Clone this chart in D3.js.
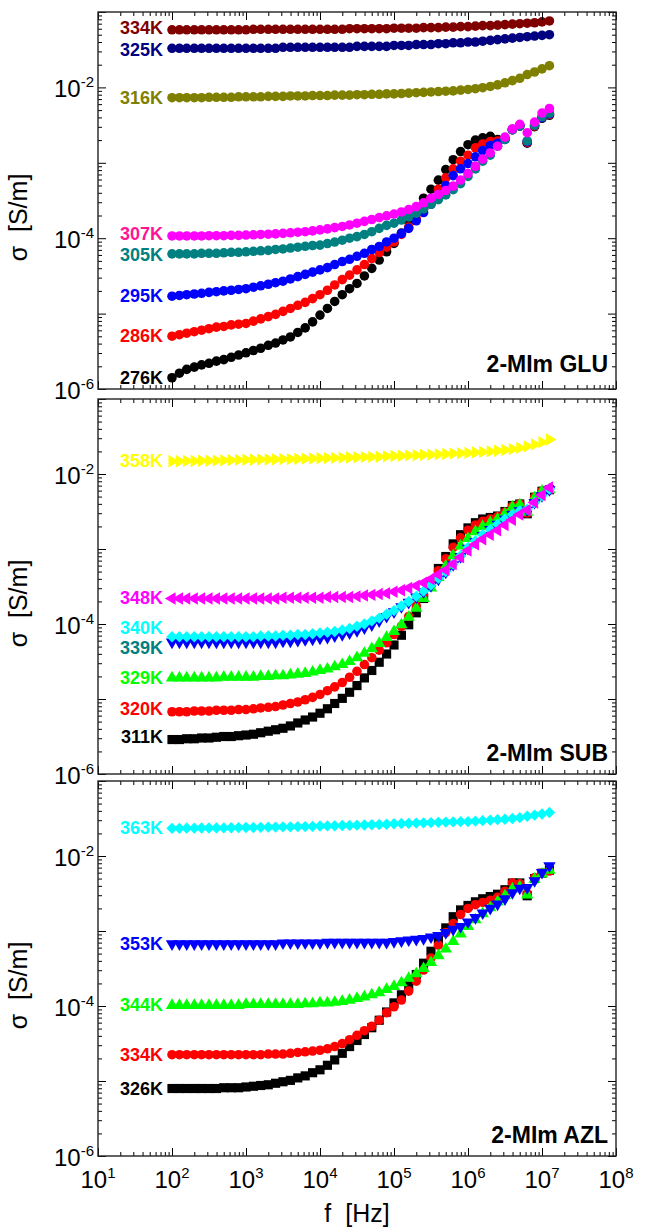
<!DOCTYPE html>
<html>
<head>
<meta charset="utf-8">
<script src="https://cdn.jsdelivr.net/npm/d3@7"></script>
<style>
  body { margin: 0; background: #fff; }
  svg { display: block; }
  text { font-family: "Liberation Sans", Arial, sans-serif; }
</style>
</head>
<body>
<div id="chart"></div>
<script>
// frequency grid of the sweep [Hz]
const freq = [
  1.00e2,1.26e2,1.58e2,2.00e2,2.51e2,3.16e2,3.98e2,5.01e2,6.31e2,7.94e2,
  1.00e3,1.26e3,1.58e3,2.00e3,2.51e3,3.16e3,3.98e3,5.01e3,6.31e3,7.94e3,
  1.00e4,1.26e4,1.58e4,2.00e4,2.51e4,3.16e4,3.98e4,5.01e4,6.31e4,7.94e4,
  1.00e5,1.26e5,1.58e5,2.00e5,2.51e5,3.16e5,3.98e5,5.01e5,6.31e5,7.94e5,
  1.00e6,1.26e6,1.58e6,2.00e6,2.51e6,3.16e6,3.98e6,5.01e6,6.31e6,7.94e6,
  1.00e7,1.26e7
];

// ---- 2-MIm GLU, sigma [S/m]
const glu334 = [
  5.8e-2,5.8e-2,5.8e-2,5.8e-2,5.8e-2,5.8e-2,5.8e-2,5.8e-2,5.8e-2,5.8e-2,
  5.8e-2,5.9e-2,5.9e-2,5.9e-2,5.9e-2,5.9e-2,5.9e-2,5.9e-2,5.9e-2,5.9e-2,
  5.9e-2,5.9e-2,5.9e-2,5.9e-2,6.0e-2,6.0e-2,6.0e-2,6.0e-2,6.0e-2,6.0e-2,
  6.1e-2,6.1e-2,6.1e-2,6.1e-2,6.2e-2,6.2e-2,6.2e-2,6.3e-2,6.3e-2,6.4e-2,
  6.4e-2,6.5e-2,6.6e-2,6.6e-2,6.7e-2,6.8e-2,6.9e-2,7.0e-2,7.1e-2,7.2e-2,7.4e-2,7.6e-2
];
const glu325 = [
  3.3e-2,3.3e-2,3.3e-2,3.3e-2,3.3e-2,3.3e-2,3.3e-2,3.3e-2,3.3e-2,3.3e-2,
  3.3e-2,3.3e-2,3.3e-2,3.3e-2,3.3e-2,3.4e-2,3.4e-2,3.4e-2,3.4e-2,3.4e-2,
  3.4e-2,3.4e-2,3.4e-2,3.4e-2,3.4e-2,3.5e-2,3.5e-2,3.5e-2,3.5e-2,3.5e-2,
  3.6e-2,3.6e-2,3.6e-2,3.7e-2,3.7e-2,3.7e-2,3.8e-2,3.8e-2,3.9e-2,3.9e-2,
  4.0e-2,4.0e-2,4.1e-2,4.2e-2,4.3e-2,4.4e-2,4.5e-2,4.6e-2,4.7e-2,4.8e-2,4.9e-2,5.0e-2
];
const glu316 = [
  7.3e-3,7.3e-3,7.3e-3,7.3e-3,7.3e-3,7.4e-3,7.4e-3,7.4e-3,7.4e-3,7.5e-3,
  7.5e-3,7.5e-3,7.5e-3,7.6e-3,7.6e-3,7.6e-3,7.7e-3,7.7e-3,7.7e-3,7.8e-3,
  7.8e-3,7.8e-3,7.9e-3,7.9e-3,7.9e-3,8.0e-3,8.0e-3,8.1e-3,8.1e-3,8.2e-3,
  8.2e-3,8.3e-3,8.4e-3,8.5e-3,8.6e-3,8.7e-3,8.8e-3,8.9e-3,9.0e-3,9.2e-3,
  9.4e-3,9.6e-3,9.9e-3,1.03e-2,1.08e-2,1.15e-2,1.23e-2,1.32e-2,1.48e-2,1.60e-2,1.76e-2,1.94e-2
];
const glu307 = [
  1.07e-4,1.07e-4,1.07e-4,1.07e-4,1.07e-4,1.08e-4,1.08e-4,1.08e-4,1.09e-4,1.09e-4,
  1.10e-4,1.11e-4,1.12e-4,1.13e-4,1.14e-4,1.16e-4,1.18e-4,1.20e-4,1.22e-4,1.25e-4,
  1.29e-4,1.33e-4,1.38e-4,1.43e-4,1.50e-4,1.58e-4,1.67e-4,1.77e-4,1.88e-4,1.98e-4,
  2.09e-4,2.23e-4,2.40e-4,2.62e-4,2.95e-4,3.39e-4,3.80e-4,4.30e-4,4.90e-4,5.90e-4,
  7.2e-4,9.0e-4,1.12e-3,1.35e-3,1.66e-3,2.19e-3,2.82e-3,3.24e-3,2.51e-3,3.47e-3,4.57e-3,5.25e-3
];
const glu305 = [
  6.2e-5,6.2e-5,6.2e-5,6.2e-5,6.3e-5,6.3e-5,6.3e-5,6.4e-5,6.5e-5,6.5e-5,
  6.6e-5,6.7e-5,6.8e-5,6.9e-5,7.1e-5,7.2e-5,7.4e-5,7.6e-5,7.8e-5,8.0e-5,
  8.1e-5,8.5e-5,8.9e-5,9.4e-5,1.00e-4,1.05e-4,1.12e-4,1.22e-4,1.35e-4,1.48e-4,
  1.58e-4,1.74e-4,1.92e-4,2.15e-4,2.45e-4,2.82e-4,3.25e-4,3.75e-4,4.4e-4,5.3e-4,
  6.6e-4,8.3e-4,1.05e-3,1.26e-3,1.66e-3,2.04e-3,2.75e-3,3.09e-3,1.95e-3,3.16e-3,4.07e-3,4.57e-3
];
const glu295 = [
  1.70e-5,1.74e-5,1.78e-5,1.82e-5,1.86e-5,1.91e-5,1.95e-5,2.00e-5,2.04e-5,2.09e-5,
  2.14e-5,2.24e-5,2.34e-5,2.45e-5,2.57e-5,2.69e-5,2.88e-5,3.09e-5,3.31e-5,3.55e-5,
  3.80e-5,4.07e-5,4.47e-5,4.90e-5,5.25e-5,5.75e-5,6.31e-5,7.08e-5,7.76e-5,8.91e-5,
  1.00e-4,1.15e-4,1.35e-4,1.70e-4,2.19e-4,2.82e-4,3.80e-4,5.01e-4,6.76e-4,8.32e-4,
  9.77e-4,1.20e-3,1.45e-3,1.70e-3,1.82e-3,2.04e-3,2.75e-3,3.09e-3,1.91e-3,3.16e-3,3.98e-3,4.47e-3
];
const glu286 = [
  5.01e-6,5.25e-6,5.50e-6,5.75e-6,6.03e-6,6.31e-6,6.61e-6,6.76e-6,7.08e-6,7.24e-6,
  7.41e-6,7.94e-6,8.51e-6,9.12e-6,9.77e-6,1.07e-5,1.17e-5,1.29e-5,1.41e-5,1.58e-5,
  1.78e-5,2.04e-5,2.40e-5,2.82e-5,3.24e-5,3.80e-5,4.47e-5,5.37e-5,6.46e-5,7.59e-5,
  8.91e-5,1.12e-4,1.41e-4,1.82e-4,2.40e-4,3.24e-4,4.47e-4,6.31e-4,8.32e-4,1.05e-3,
  1.26e-3,1.58e-3,1.78e-3,1.91e-3,1.95e-3,2.09e-3,2.75e-3,3.09e-3,1.86e-3,3.09e-3,3.98e-3,4.37e-3
];
const glu276 = [
  1.41e-6,1.62e-6,1.82e-6,1.95e-6,2.09e-6,2.19e-6,2.34e-6,2.45e-6,2.63e-6,2.82e-6,
  3.02e-6,3.24e-6,3.47e-6,3.80e-6,4.07e-6,4.47e-6,4.90e-6,5.62e-6,6.46e-6,7.76e-6,
  9.55e-6,1.17e-5,1.45e-5,1.78e-5,2.14e-5,2.51e-5,3.16e-5,3.98e-5,5.13e-5,6.61e-5,
  8.51e-5,1.17e-4,1.66e-4,2.34e-4,3.39e-4,4.47e-4,5.89e-4,8.13e-4,1.10e-3,1.41e-3,
  1.74e-3,2.00e-3,2.14e-3,2.24e-3,2.04e-3,2.09e-3,2.75e-3,3.09e-3,1.82e-3,3.02e-3,3.89e-3,4.27e-3
];

// ---- 2-MIm SUB
const sub358 = [
  1.48e-2,1.48e-2,1.49e-2,1.49e-2,1.50e-2,1.50e-2,1.51e-2,1.52e-2,1.53e-2,1.54e-2,
  1.55e-2,1.55e-2,1.56e-2,1.56e-2,1.57e-2,1.58e-2,1.58e-2,1.59e-2,1.60e-2,1.61e-2,
  1.62e-2,1.63e-2,1.64e-2,1.65e-2,1.66e-2,1.67e-2,1.68e-2,1.69e-2,1.70e-2,1.72e-2,
  1.74e-2,1.75e-2,1.77e-2,1.78e-2,1.80e-2,1.81e-2,1.83e-2,1.85e-2,1.87e-2,1.89e-2,
  1.91e-2,1.94e-2,1.97e-2,2.00e-2,2.04e-2,2.09e-2,2.15e-2,2.23e-2,2.34e-2,2.48e-2,2.66e-2,2.88e-2
];
const sub348 = [
  2.19e-4,2.19e-4,2.19e-4,2.19e-4,2.19e-4,2.19e-4,2.19e-4,2.19e-4,2.19e-4,2.19e-4,
  2.19e-4,2.19e-4,2.19e-4,2.19e-4,2.19e-4,2.24e-4,2.24e-4,2.24e-4,2.24e-4,2.24e-4,
  2.24e-4,2.29e-4,2.29e-4,2.29e-4,2.29e-4,2.34e-4,2.40e-4,2.45e-4,2.51e-4,2.57e-4,
  2.69e-4,2.82e-4,3.02e-4,3.24e-4,3.55e-4,3.98e-4,4.57e-4,5.25e-4,6.31e-4,7.76e-4,
  9.55e-4,1.15e-3,1.35e-3,1.55e-3,1.78e-3,2.09e-3,2.45e-3,2.88e-3,3.31e-3,4.17e-3,5.25e-3,6.61e-3
];
const sub340 = [
  6.76e-5,6.76e-5,6.76e-5,6.76e-5,6.76e-5,6.76e-5,6.76e-5,6.76e-5,6.76e-5,6.76e-5,
  6.76e-5,6.76e-5,6.92e-5,6.92e-5,6.92e-5,7.08e-5,7.08e-5,7.24e-5,7.24e-5,7.41e-5,
  7.59e-5,7.76e-5,7.94e-5,8.32e-5,8.71e-5,9.33e-5,1.00e-4,1.10e-4,1.20e-4,1.35e-4,
  1.51e-4,1.74e-4,2.00e-4,2.34e-4,2.75e-4,3.31e-4,4.07e-4,5.01e-4,6.31e-4,8.13e-4,
  1.05e-3,1.29e-3,1.55e-3,1.82e-3,2.14e-3,2.51e-3,2.88e-3,3.24e-3,3.39e-3,4.17e-3,5.13e-3,6.31e-3
];
const sub339 = [
  5.75e-5,5.75e-5,5.75e-5,5.75e-5,5.75e-5,5.75e-5,5.75e-5,5.75e-5,5.75e-5,5.75e-5,
  5.75e-5,5.75e-5,5.75e-5,5.75e-5,5.75e-5,5.89e-5,5.89e-5,6.03e-5,6.17e-5,6.31e-5,
  6.46e-5,6.61e-5,6.92e-5,7.24e-5,7.59e-5,8.13e-5,8.91e-5,9.77e-5,1.10e-4,1.26e-4,
  1.45e-4,1.70e-4,1.95e-4,2.29e-4,2.69e-4,3.24e-4,3.98e-4,4.90e-4,6.17e-4,7.94e-4,
  1.02e-3,1.26e-3,1.51e-3,1.82e-3,2.14e-3,2.51e-3,2.88e-3,3.24e-3,3.31e-3,4.17e-3,5.13e-3,6.17e-3
];
const sub329 = [
  1.91e-5,1.91e-5,1.91e-5,1.91e-5,1.91e-5,1.91e-5,1.91e-5,1.95e-5,1.95e-5,1.95e-5,
  1.95e-5,1.95e-5,2.00e-5,2.00e-5,2.04e-5,2.04e-5,2.09e-5,2.14e-5,2.19e-5,2.29e-5,
  2.40e-5,2.51e-5,2.69e-5,2.88e-5,3.16e-5,3.55e-5,4.07e-5,4.68e-5,5.50e-5,6.61e-5,
  7.94e-5,9.77e-5,1.23e-4,1.62e-4,2.19e-4,3.02e-4,4.17e-4,5.89e-4,8.13e-4,1.10e-3,
  1.38e-3,1.70e-3,2.00e-3,2.24e-3,2.51e-3,2.95e-3,3.63e-3,3.89e-3,3.09e-3,4.79e-3,5.89e-3,6.17e-3
];
const sub320 = [
  6.76e-6,6.76e-6,6.76e-6,6.92e-6,6.92e-6,6.92e-6,7.08e-6,7.08e-6,7.08e-6,7.24e-6,
  7.24e-6,7.41e-6,7.59e-6,7.76e-6,7.94e-6,8.32e-6,8.71e-6,9.12e-6,9.77e-6,1.05e-5,
  1.15e-5,1.29e-5,1.45e-5,1.66e-5,1.95e-5,2.34e-5,2.88e-5,3.55e-5,4.47e-5,5.62e-5,
  7.24e-5,9.33e-5,1.26e-4,1.74e-4,2.45e-4,3.55e-4,5.13e-4,7.41e-4,1.05e-3,1.41e-3,
  1.78e-3,2.09e-3,2.34e-3,2.51e-3,2.69e-3,3.09e-3,3.72e-3,3.98e-3,3.02e-3,4.90e-3,5.89e-3,6.17e-3
];
const sub311 = [
  2.88e-6,2.88e-6,2.95e-6,2.95e-6,3.02e-6,3.02e-6,3.09e-6,3.16e-6,3.16e-6,3.24e-6,
  3.31e-6,3.39e-6,3.55e-6,3.72e-6,3.89e-6,4.07e-6,4.37e-6,4.79e-6,5.25e-6,5.75e-6,
  6.46e-6,7.41e-6,8.71e-6,1.02e-5,1.23e-5,1.51e-5,1.91e-5,2.40e-5,3.09e-5,3.98e-5,
  5.25e-5,7.08e-5,9.77e-5,1.41e-4,2.19e-4,3.55e-4,5.50e-4,7.94e-4,1.17e-3,1.55e-3,
  1.91e-3,2.24e-3,2.51e-3,2.63e-3,2.75e-3,3.16e-3,3.80e-3,3.98e-3,2.95e-3,4.90e-3,5.89e-3,6.17e-3
];

// ---- 2-MIm AZL
const azl363 = [
  2.34e-2,2.34e-2,2.35e-2,2.35e-2,2.36e-2,2.36e-2,2.37e-2,2.37e-2,2.38e-2,2.39e-2,
  2.40e-2,2.40e-2,2.41e-2,2.42e-2,2.43e-2,2.44e-2,2.45e-2,2.46e-2,2.47e-2,2.48e-2,
  2.51e-2,2.52e-2,2.53e-2,2.55e-2,2.56e-2,2.58e-2,2.59e-2,2.61e-2,2.63e-2,2.65e-2,
  2.69e-2,2.71e-2,2.73e-2,2.75e-2,2.77e-2,2.79e-2,2.81e-2,2.83e-2,2.85e-2,2.87e-2,
  2.88e-2,2.92e-2,2.96e-2,3.00e-2,3.05e-2,3.09e-2,3.16e-2,3.24e-2,3.39e-2,3.51e-2,3.63e-2,3.80e-2
];
const azl353 = [
  6.76e-4,6.76e-4,6.76e-4,6.76e-4,6.76e-4,6.76e-4,6.76e-4,6.76e-4,6.76e-4,6.76e-4,
  6.76e-4,6.76e-4,6.76e-4,6.76e-4,6.76e-4,6.92e-4,6.92e-4,6.92e-4,6.92e-4,6.92e-4,
  6.92e-4,7.08e-4,7.08e-4,7.08e-4,7.08e-4,7.08e-4,7.08e-4,7.08e-4,7.08e-4,7.08e-4,
  7.24e-4,7.41e-4,7.59e-4,7.76e-4,7.94e-4,8.32e-4,8.71e-4,9.55e-4,1.05e-3,1.15e-3,
  1.32e-3,1.51e-3,1.74e-3,2.00e-3,2.29e-3,2.69e-3,3.24e-3,3.72e-3,3.80e-3,4.68e-3,6.03e-3,7.41e-3
];
const azl344 = [
  1.02e-4,1.02e-4,1.02e-4,1.02e-4,1.02e-4,1.02e-4,1.02e-4,1.02e-4,1.02e-4,1.02e-4,
  1.05e-4,1.05e-4,1.05e-4,1.05e-4,1.05e-4,1.05e-4,1.05e-4,1.05e-4,1.07e-4,1.07e-4,
  1.10e-4,1.10e-4,1.12e-4,1.15e-4,1.20e-4,1.26e-4,1.32e-4,1.41e-4,1.51e-4,1.66e-4,
  1.82e-4,2.04e-4,2.34e-4,2.69e-4,3.16e-4,3.80e-4,4.68e-4,5.75e-4,7.24e-4,9.12e-4,
  1.15e-3,1.41e-3,1.70e-3,2.04e-3,2.45e-3,2.95e-3,3.63e-3,3.89e-3,3.02e-3,4.90e-3,5.75e-3,6.46e-3
];
const azl334 = [
  2.24e-5,2.24e-5,2.24e-5,2.24e-5,2.24e-5,2.24e-5,2.24e-5,2.24e-5,2.24e-5,2.24e-5,
  2.24e-5,2.24e-5,2.24e-5,2.29e-5,2.29e-5,2.29e-5,2.34e-5,2.40e-5,2.45e-5,2.51e-5,
  2.57e-5,2.69e-5,2.88e-5,3.16e-5,3.55e-5,4.07e-5,4.68e-5,5.37e-5,6.46e-5,8.13e-5,
  9.77e-5,1.20e-4,1.58e-4,2.14e-4,3.02e-4,4.37e-4,6.46e-4,9.55e-4,1.26e-3,1.66e-3,
  2.00e-3,2.24e-3,2.40e-3,2.57e-3,2.82e-3,3.39e-3,4.37e-3,4.27e-3,3.16e-3,5.13e-3,5.89e-3,6.31e-3
];
const azl326 = [
  7.94e-6,7.94e-6,7.94e-6,7.94e-6,7.94e-6,7.94e-6,7.94e-6,8.13e-6,8.13e-6,8.13e-6,
  8.32e-6,8.51e-6,8.71e-6,8.91e-6,9.33e-6,9.77e-6,1.02e-5,1.10e-5,1.17e-5,1.29e-5,
  1.41e-5,1.62e-5,1.91e-5,2.34e-5,2.88e-5,3.47e-5,4.17e-5,5.13e-5,6.46e-5,8.32e-5,
  1.10e-4,1.41e-4,1.86e-4,2.63e-4,3.72e-4,5.37e-4,7.76e-4,1.10e-3,1.55e-3,1.91e-3,
  2.19e-3,2.45e-3,2.69e-3,2.88e-3,3.09e-3,3.55e-3,4.37e-3,4.37e-3,2.95e-3,5.01e-3,5.89e-3,6.46e-3
];

// tick labels
const yLabelExp = [-2, -4, -6];
const xLabelExp = [1, 2, 3, 4, 5, 6, 7, 8];

// series are listed in drawing order; nudge moves a crowded label a few px
const panels = [
  { name: '2-MIm GLU', top: 12, bottom: 389, nameLift: 17, series: [
    { label: '334K', values: glu334, color: '#800000', shape: 'circle', nudge: -1.5 },
    { label: '325K', values: glu325, color: '#000080', shape: 'circle', nudge: 1.5 },
    { label: '316K', values: glu316, color: '#808000', shape: 'circle' },
    { label: '276K', values: glu276, color: '#000000', shape: 'circle' },
    { label: '286K', values: glu286, color: '#ff0000', shape: 'circle' },
    { label: '295K', values: glu295, color: '#0000ff', shape: 'circle' },
    { label: '305K', values: glu305, color: '#008080', shape: 'circle', nudge: 1.5 },
    { label: '307K', values: glu307, color: '#ff00ff', labelColor: '#ff1493', shape: 'circle', nudge: -1.5 }
  ]},
  { name: '2-MIm SUB', top: 399, bottom: 774, nameLift: 13, series: [
    { label: '311K', values: sub311, color: '#000000', shape: 'square', nudge: -3 },
    { label: '320K', values: sub320, color: '#ff0000', shape: 'circle', nudge: -3 },
    { label: '329K', values: sub329, color: '#00ff00', shape: 'up' },
    { label: '339K', values: sub339, color: '#0000ff', labelColor: '#008080', shape: 'down', nudge: 6 },
    { label: '340K', values: sub340, color: '#00ffff', shape: 'diamond', nudge: -9 },
    { label: '348K', values: sub348, color: '#ff00ff', shape: 'left' },
    { label: '358K', values: sub358, color: '#ffff00', shape: 'right' }
  ]},
  { name: '2-MIm AZL', top: 781, bottom: 1156, nameLift: 13, series: [
    { label: '326K', values: azl326, color: '#000000', shape: 'square' },
    { label: '334K', values: azl334, color: '#ff0000', shape: 'circle' },
    { label: '344K', values: azl344, color: '#00ff00', shape: 'up' },
    { label: '353K', values: azl353, color: '#0000ff', shape: 'down' },
    { label: '363K', values: azl363, color: '#00ffff', shape: 'diamond' }
  ]}
];

const shapes = {
  circle:  { type: d3.symbolCircle,   size: 72, rot: 0 },
  square:  { type: d3.symbolSquare,   size: 84, rot: 0 },
  up:      { type: d3.symbolTriangle, size: 66, rot: 0 },
  down:    { type: d3.symbolTriangle, size: 66, rot: 180 },
  left:    { type: d3.symbolTriangle, size: 66, rot: -90 },
  right:   { type: d3.symbolTriangle, size: 66, rot: 90 },
  diamond: { type: d3.symbolSquare,   size: 64, rot: 45 }
};

const W = 650, H = 1228;
const x = d3.scaleLog().domain([1e1, 1e8]).range([98, 616]);

const svg = d3.select('#chart').append('svg')
  .attr('width', W)
  .attr('height', H);

// major ticks every decade, minor at 2..9
const xMajor = [], xMinor = [];
for (let k = 1; k <= 8; k++) {
  xMajor.push(10 ** k);
  if (k < 8) for (let m = 2; m <= 9; m++) xMinor.push(m * 10 ** k);
}
const yMajor = [], yMinor = [];
for (let k = -6; k <= -1; k++) {
  yMajor.push(10 ** k);
  if (k < -1) for (let m = 2; m <= 9; m++) yMinor.push(m * 10 ** k);
}

function styleTicks(g) {
  g.select('.domain').remove();
  g.selectAll('.tick line').attr('stroke', '#000').attr('stroke-width', 1);
}

panels.forEach((p, pi) => {
  const y = d3.scaleLog().domain([1e-6, 1e-1]).range([p.bottom, p.top]);
  const g = svg.append('g');

  // markers
  p.series.forEach(s => {
    const sh = shapes[s.shape];
    const d = d3.symbol(sh.type, sh.size)();
    g.append('g').selectAll('path')
      .data(s.values)
      .join('path')
      .attr('d', d)
      .attr('transform', (v, i) => `translate(${x(freq[i])},${y(v)}) rotate(${sh.rot})`)
      .attr('fill', s.color);
  });

  // series labels
  p.series.forEach(s => {
    g.append('text')
      .attr('x', x(freq[0]) - 9)
      .attr('y', y(s.values[0]) + (s.nudge || 0))
      .attr('text-anchor', 'end')
      .attr('dominant-baseline', 'central')
      .attr('font-weight', 'bold')
      .attr('font-size', 18)
      .attr('fill', s.labelColor || s.color)
      .text(s.label);
  });

  // ticks on all four sides, pointing inwards
  const [x0, x1] = x.range();
  [[xMajor, 8], [xMinor, 4]].forEach(([vals, len]) => {
    g.append('g').attr('transform', `translate(0,${p.bottom})`)
      .call(d3.axisBottom(x).tickValues(vals).tickSize(-len).tickFormat(''))
      .call(styleTicks);
    g.append('g').attr('transform', `translate(0,${p.top})`)
      .call(d3.axisTop(x).tickValues(vals).tickSize(-len).tickFormat(''))
      .call(styleTicks);
  });
  [[yMajor, 8], [yMinor, 4]].forEach(([vals, len]) => {
    g.append('g').attr('transform', `translate(${x0},0)`)
      .call(d3.axisLeft(y).tickValues(vals).tickSize(-len).tickFormat(''))
      .call(styleTicks);
    g.append('g').attr('transform', `translate(${x1},0)`)
      .call(d3.axisRight(y).tickValues(vals).tickSize(-len).tickFormat(''))
      .call(styleTicks);
  });

  g.append('rect')
    .attr('x', x0).attr('y', p.top)
    .attr('width', x1 - x0).attr('height', p.bottom - p.top)
    .attr('fill', 'none').attr('stroke', '#222').attr('stroke-width', 1.4);

  // y tick labels
  yLabelExp.forEach(e => {
    const t = g.append('text')
      .attr('x', x0 - 4)
      .attr('y', y(10 ** e) + 10)
      .attr('text-anchor', 'end')
      .attr('font-size', 24)
      .attr('fill', '#000')
      .text('10');
    t.append('tspan').attr('dy', -10).attr('font-size', 15).text(e);
  });

  // y title
  g.append('text')
    .attr('transform', `translate(27,${(p.top + p.bottom) / 2 + 17}) rotate(-90)`)
    .attr('text-anchor', 'middle')
    .attr('font-size', 25)
    .attr('fill', '#000')
    .text('\u03c3\u00a0\u00a0[S/m]');

  // sample name
  g.append('text')
    .attr('x', x1 - 8)
    .attr('y', p.bottom - p.nameLift)
    .attr('text-anchor', 'end')
    .attr('font-weight', 'bold')
    .attr('font-size', 23)
    .attr('fill', '#000')
    .text(p.name);

  // x tick labels on the last panel only
  if (pi === panels.length - 1) {
    xLabelExp.forEach(e => {
      const t = g.append('text')
        .attr('x', x(10 ** e))
        .attr('y', p.bottom + 32)
        .attr('text-anchor', 'middle')
        .attr('font-size', 24)
        .attr('fill', '#000')
        .text('10');
      t.append('tspan').attr('dy', -10).attr('font-size', 15).text(e);
    });
    g.append('text')
      .attr('x', (x0 + x1) / 2)
      .attr('y', 1222)
      .attr('text-anchor', 'middle')
      .attr('font-size', 25)
      .attr('fill', '#000')
      .text('f\u00a0\u00a0[Hz]');
  }
});
</script>
</body>
</html>
